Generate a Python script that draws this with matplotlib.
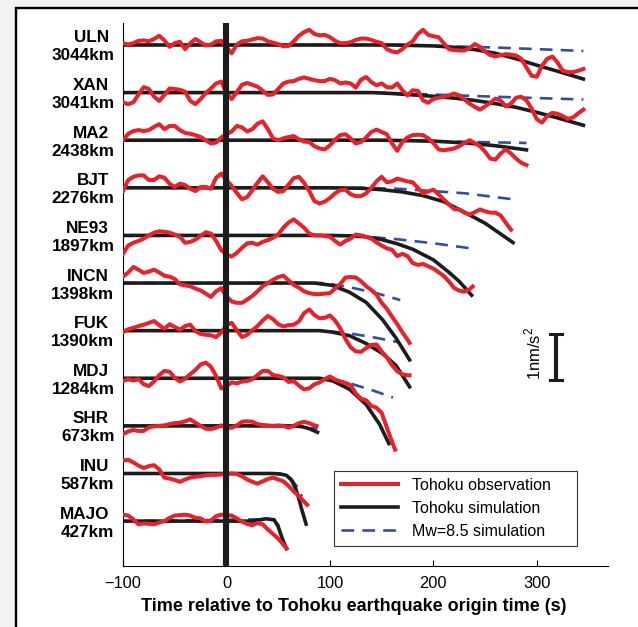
import numpy as np
import matplotlib
matplotlib.use("Agg")
import matplotlib.pyplot as plt
from matplotlib.patches import Rectangle

plt.rcParams['font.family'] = ['Liberation Sans', 'DejaVu Sans']
plt.rcParams['mathtext.fontset'] = 'custom'
plt.rcParams['mathtext.rm'] = 'Liberation Sans'

stations = ["ULN", "XAN", "MA2", "BJT", "NE93", "INCN",
            "FUK", "MDJ", "SHR", "INU", "MAJO"]
distances = ["3044km", "3041km", "2438km", "2276km", "1897km", "1398km",
             "1390km", "1284km", "673km", "587km", "427km"]

# observed traces (nm/s^2), one value every 5 s from -100 s,
# the last value sits at obs_end
obs_end = [345, 345, 290, 275, 238, 177, 177, 163, 87, 78, 58]

uln_obs = [0.04, 0.01, 0.04, 0.09, 0.10, 0.08, 0.13, 0.20, 0.10, -0.04,
           0.04, 0.07, -0.09, 0.04, 0.13, 0.06, -0.01, 0.01, 0.08, 0.09,
           -0.04, -0.18, 0.01, 0.08, 0.09, 0.12, 0.15, 0.14, 0.08, 0.05,
           0.02, -0.03, -0.02, 0.08, 0.20, 0.28, 0.33, 0.24, 0.21, 0.22,
           0.17, 0.09, 0.04, 0.04, 0.06, 0.11, 0.14, 0.14, 0.11, 0.07,
           0.04, -0.09, -0.14, -0.16, -0.09, 0.01, 0.08, 0.24, 0.33, 0.22,
           0.19, 0.17, 0.04, -0.09, -0.11, -0.12, -0.12, -0.07, 0.02, -0.04,
           -0.14, -0.22, -0.25, -0.22, -0.20, -0.21, -0.23, -0.30, -0.49, -0.67,
           -0.69, -0.45, -0.30, -0.25, -0.38, -0.56, -0.59, -0.59, -0.56,
           -0.52]
xan_obs = [-0.21, -0.25, -0.21, -0.04, 0.12, 0.08, -0.09, -0.18, -0.05, 0.09,
           0.08, 0.06, 0.02, -0.18, -0.25, -0.14, -0.01, 0.09, 0.20, 0.24,
           -0.01, -0.14, 0.01, 0.17, 0.21, 0.17, 0.13, 0.04, -0.05, -0.04,
           0.08, 0.20, 0.24, 0.25, 0.30, 0.33, 0.30, 0.27, 0.25, 0.25,
           0.30, 0.27, 0.20, 0.22, 0.20, 0.11, 0.28, 0.34, 0.23, 0.16,
           0.20, 0.12, 0.11, 0.20, 0.05, -0.06, 0.05, 0.04, -0.17, -0.22,
           -0.14, -0.11, -0.09, -0.06, -0.02, -0.06, -0.15, -0.24, -0.31, -0.37,
           -0.30, -0.22, -0.13, -0.17, -0.30, -0.24, -0.11, -0.09, -0.17, -0.35,
           -0.58, -0.65, -0.51, -0.44, -0.46, -0.51, -0.57, -0.54, -0.45,
           -0.37]
ma2_obs = [0.00, 0.14, 0.20, 0.22, 0.20, 0.22, 0.29, 0.35, 0.24, 0.31,
           0.31, 0.22, 0.16, 0.14, 0.11, 0.07, 0.00, -0.07, -0.05, 0.06,
           0.13, 0.19, 0.31, 0.28, 0.19, 0.24, 0.36, 0.41, 0.24, 0.04,
           0.00, 0.04, 0.07, 0.09, 0.02, -0.03, -0.04, -0.13, -0.18, -0.20,
           -0.11, 0.01, 0.11, 0.13, 0.04, -0.07, -0.04, 0.06, 0.18, 0.23,
           0.18, 0.13, -0.07, -0.23, -0.04, 0.06, 0.11, 0.12, 0.11, 0.04,
           -0.06, -0.20, -0.22, -0.20, -0.18, -0.13, -0.06, 0.00, -0.06, -0.13,
           -0.25, -0.40, -0.42, -0.29, -0.20, -0.29, -0.40, -0.49,
           -0.54]
bjt_obs = [-0.07, 0.17, 0.24, 0.27, 0.27, 0.17, 0.17, 0.25, 0.22, 0.09,
           0.02, 0.09, 0.06, -0.02, -0.07, 0.02, 0.02, -0.02, 0.22, 0.31,
           0.17, 0.04, -0.11, -0.25, -0.20, -0.05, 0.11, 0.25, 0.12, -0.02,
           -0.09, -0.07, 0.07, 0.21, 0.24, 0.11, -0.07, -0.29, -0.34, -0.30,
           -0.22, -0.12, -0.05, -0.04, -0.14, -0.18, -0.18, -0.12, 0.00, 0.14,
           0.24, 0.12, 0.14, 0.20, 0.17, 0.14, 0.12, 0.00, -0.12, -0.08,
           -0.04, -0.14, -0.25, -0.36, -0.46, -0.47, -0.54, -0.58, -0.53, -0.47,
           -0.51, -0.54, -0.54, -0.60, -0.76,
           -0.91]
ne93_obs = [-0.40, -0.22, -0.16, -0.12, -0.07, 0.00, 0.06, 0.09, 0.08, 0.06,
            0.02, -0.03, -0.16, -0.14, -0.09, -0.01, 0.07, 0.04, -0.12, -0.32,
            -0.41, -0.46, -0.38, -0.27, -0.17, -0.16, -0.20, -0.14, -0.10, -0.05,
            0.02, 0.17, 0.28, 0.35, 0.26, 0.17, 0.04, 0.00, 0.00, -0.01,
            -0.03, -0.12, -0.20, -0.12, -0.07, 0.02, 0.00, -0.03, -0.07, -0.15,
            -0.22, -0.28, -0.31, -0.45, -0.40, -0.45, -0.60, -0.64, -0.62, -0.67,
            -0.72, -0.80, -0.88, -1.00, -1.14, -1.20, -1.22, -1.17,
            -1.11]
incn_obs = [0.14, 0.23, 0.35, 0.29, 0.22, 0.25, 0.29, 0.23, 0.16, 0.14,
            0.09, -0.03, -0.05, -0.07, -0.12, -0.16, -0.23, -0.30, -0.18, -0.11,
            -0.29, -0.40, -0.43, -0.43, -0.36, -0.28, -0.18, -0.07, 0.00, 0.07,
            0.13, 0.16, 0.06, -0.04, -0.10, -0.18, -0.22, -0.24, -0.24, -0.23,
            -0.22, -0.12, -0.02, 0.12, 0.13, 0.12, 0.04, -0.07, -0.15, -0.25,
            -0.43, -0.56, -0.73, -0.89, -1.07, -1.23,
            -1.30]
fuk_obs = [-0.03, 0.03, 0.06, 0.10, 0.13, 0.17, 0.21, 0.12, 0.04, 0.14,
           0.08, 0.02, 0.10, 0.13, -0.01, -0.07, -0.09, -0.10, -0.14, -0.04,
           0.12, 0.17, 0.01, -0.14, -0.09, 0.01, 0.10, 0.22, 0.32, 0.25,
           0.14, 0.09, 0.12, 0.13, 0.20, 0.38, 0.46, 0.34, 0.27, 0.28,
           0.33, 0.22, 0.05, -0.18, -0.36, -0.45, -0.46, -0.38, -0.31, -0.30,
           -0.45, -0.58, -0.75, -0.88, -0.95, -0.97,
           -0.97]
mdj_obs = [-0.06, -0.02, -0.05, -0.02, -0.13, -0.17, -0.07, 0.07, 0.16, 0.14,
           0.01, -0.07, -0.01, 0.09, 0.18, 0.30, 0.34, 0.25, 0.05, -0.22,
           -0.17, -0.09, -0.11, -0.07, -0.06, -0.02, 0.07, 0.16, 0.16, 0.07,
           0.05, 0.02, -0.08, -0.06, -0.16, -0.24, -0.22, -0.13, -0.09, -0.02,
           0.04, -0.03, -0.07, -0.10, -0.15, -0.33, -0.44, -0.48, -0.60, -0.64,
           -0.75, -1.07, -1.38,
           -1.55]
shr_obs = [-0.18, -0.12, -0.09, -0.11, -0.11, -0.03, -0.01, 0.00, 0.01, 0.04,
           0.06, 0.07, 0.10, 0.14, 0.07, 0.00, -0.06, -0.07, -0.04, 0.01,
           -0.04, -0.04, 0.01, 0.09, 0.10, 0.09, 0.04, 0.02, 0.01, 0.00,
           0.01, 0.00, -0.04, 0.00, 0.06, 0.09, 0.06, 0.01,
           0.00]
inu_obs = [0.28, 0.30, 0.24, 0.17, 0.12, 0.16, 0.18, 0.09, -0.09, -0.11,
           -0.14, -0.18, -0.13, -0.09, -0.07, -0.06, -0.04, -0.03, -0.03, -0.02,
           -0.01, 0.00, -0.01, -0.06, -0.13, -0.18, -0.22, -0.17, -0.12, -0.09,
           -0.13, -0.17, -0.27, -0.39, -0.49, -0.61,
           -0.68]
majo_obs = [0.14, 0.12, 0.04, -0.07, -0.05, -0.06, -0.07, -0.03, 0.00, 0.07,
            0.12, 0.13, 0.14, 0.12, 0.07, 0.06, -0.01, 0.01, 0.11, 0.14,
            0.13, 0.12, 0.06, -0.01, -0.06, -0.09, -0.04, -0.07, -0.18, -0.28,
            -0.38, -0.51,
            -0.59]

observations = [uln_obs, xan_obs, ma2_obs, bjt_obs, ne93_obs, incn_obs,
                fuk_obs, mdj_obs, shr_obs, inu_obs, majo_obs]

# Tohoku simulation, (time, value) knots
sim_t = [[-100, 160, 180, 200, 220, 240, 260, 280, 300, 320, 345],
         [-100, 140, 160, 180, 200, 220, 240, 260, 280, 300, 320, 345],
         [-100, 150, 200, 232, 260, 290],
         [-100, 100, 130, 150, 170, 190, 210, 230, 250, 277],
         [-100, 100, 120, 135, 150, 165, 180, 200, 215, 225, 237],
         [-100, 85, 102, 119, 135, 151, 164, 177],
         [-100, 90, 102, 119, 135, 151, 164, 177],
         [-100, 90, 103, 119, 135, 148, 157],
         [-100, 65, 72, 80, 88],
         [-100, 45, 52, 58, 63, 67, 70, 73, 77],
         [-100, 25, 38, 46, 50, 54, 58]]
sim_v = [[0, 0, -0.01, -0.02, -0.05, -0.10, -0.18, -0.30, -0.44, -0.57, -0.74],
         [0, 0, -0.02, -0.05, -0.08, -0.12, -0.17, -0.24, -0.32, -0.43, -0.55, -0.71],
         [0, 0, -0.02, -0.06, -0.12, -0.21],
         [0, 0, -0.01, -0.04, -0.09, -0.17, -0.30, -0.53, -0.77, -1.19],
         [0, 0, -0.01, -0.03, -0.09, -0.18, -0.30, -0.53, -0.80, -1.00, -1.30],
         [0, 0, -0.05, -0.20, -0.42, -0.80, -1.20, -1.67],
         [0, 0, -0.03, -0.11, -0.28, -0.50, -0.76, -1.22],
         [0, 0, -0.06, -0.24, -0.57, -1.00, -1.42],
         [0, 0, -0.01, -0.06, -0.14],
         [0, 0, -0.01, -0.04, -0.15, -0.33, -0.55, -0.80, -1.10],
         [0, 0, 0.05, 0.03, -0.12, -0.38, -0.60]]

# Mw=8.5 simulation, (time, value) knots
mw85_t = [[-100, 180, 220, 260, 300, 345],
          [-100, 150, 185, 260, 345],
          [-100, 150, 290],
          [-100, 130, 166, 231, 277],
          [-100, 120, 164, 200, 236],
          [-100, 95, 119, 145, 168],
          [-100, 95, 122, 141, 166],
          [-100, 95, 103, 122, 141, 161],
          [-100, 60, 88],
          [-100, 45, 55, 62, 68, 73],
          [-100, 38, 46, 50, 54]]
mw85_v = [[0, 0, -0.03, -0.055, -0.09, -0.13],
          [0, 0, -0.03, -0.09, -0.15],
          [0, 0, -0.06],
          [0, 0, -0.02, -0.12, -0.25],
          [0, 0, -0.08, -0.17, -0.28],
          [0, 0, -0.09, -0.22, -0.37],
          [0, 0, -0.07, -0.14, -0.25],
          [0, 0, -0.02, -0.13, -0.26, -0.42],
          [0, 0, -0.06],
          [0, 0, -0.03, -0.10, -0.28, -0.50],
          [0, 0.04, 0.02, -0.08, -0.22]]

spacing = 1.035   # vertical offset between stations, nm/s^2

red = '#e8212b'
black = '#1c1c1c'
blue = '#2f4fa6'

fig = plt.figure(figsize=(6.38, 6.27), dpi=100)
fig.patch.set_facecolor('#f3f3f3')
# white panel with a black border on the left and top
fig.add_artist(Rectangle((16 / 638, -0.05), 1.05, 1 - 8 / 627 + 0.05,
                         transform=fig.transFigure, facecolor='white',
                         edgecolor='black', lw=1.7, zorder=-1))

ax = fig.add_axes([123 / 638, 61 / 627, 485 / 638, 543 / 627])
ax.set_facecolor('white')

for i in range(len(stations)):
    base = -i * spacing
    ax.plot(mw85_t[i], base + np.array(mw85_v[i]), color=blue, lw=1.9,
            dashes=(4.8, 3.1), zorder=1,
            label="Mw=8.5 simulation" if i == 0 else None)
    ax.plot(sim_t[i], base + np.array(sim_v[i]), color=black, lw=2.6,
            zorder=2, label="Tohoku simulation" if i == 0 else None)
    t = np.append(np.arange(-100, obs_end[i], 5), obs_end[i])
    assert len(t) == len(observations[i]), stations[i]
    ax.plot(t, base + np.array(observations[i]), color=red, lw=2.9,
            zorder=3, solid_joinstyle='round',
            label="Tohoku observation" if i == 0 else None)

    ax.text(-113.5, base + 2.5 / 46, stations[i], ha='right', va='baseline',
            fontsize=12.3, fontweight='bold', clip_on=False)
    ax.text(-108.3, base - 15.5 / 46, distances[i], ha='right',
            va='baseline', fontsize=12.3, fontweight='bold', clip_on=False)

# origin time
ax.axvline(0, color=black, lw=4.4, zorder=4)

# 1 nm/s^2 scale bar
ax.plot([318.5, 318.5], [-7.28, -6.28], color=black, lw=3.0,
        solid_capstyle='butt')
ax.plot([312.7, 324.3], [-6.28, -6.28], color=black, lw=2.2)
ax.plot([312.7, 324.3], [-7.28, -7.28], color=black, lw=2.2)
ax.text(296, -6.71, r'1nm/s$^{\mathregular{2}}$', rotation=90,
        ha='center', va='center', fontsize=12)

ax.set_xlim(-100, 368.8)
ax.set_ylim(-11.326, 0.478)
ax.set_xticks([-100, 0, 100, 200, 300])
ax.set_yticks([])
ax.spines['top'].set_visible(False)
ax.spines['right'].set_visible(False)
ax.spines['left'].set_linewidth(0.8)
ax.spines['bottom'].set_linewidth(0.8)
ax.tick_params(axis='x', direction='in', length=4.3, width=0.8,
               labelsize=11.8, pad=7.2)
ax.set_xlabel('Time relative to Tohoku earthquake origin time (s)',
              fontsize=13, fontweight='bold')
ax.xaxis.set_label_coords(0.475, -0.0584)

handles, labels = ax.get_legend_handles_labels()
order = [2, 1, 0]
leg = ax.legend([handles[k] for k in order], [labels[k] for k in order],
                loc='lower left', bbox_to_anchor=(0.435, 0.0368, 0.501, 0.14),
                mode='expand', borderaxespad=0, fontsize=11.5,
                handlelength=3.55, handletextpad=0.9, borderpad=0.45,
                labelspacing=0.5, fancybox=False, framealpha=1,
                edgecolor='#333333')
leg.get_frame().set_linewidth(0.8)

plt.savefig('out.png', dpi=100, facecolor=fig.get_facecolor())
plt.close()
